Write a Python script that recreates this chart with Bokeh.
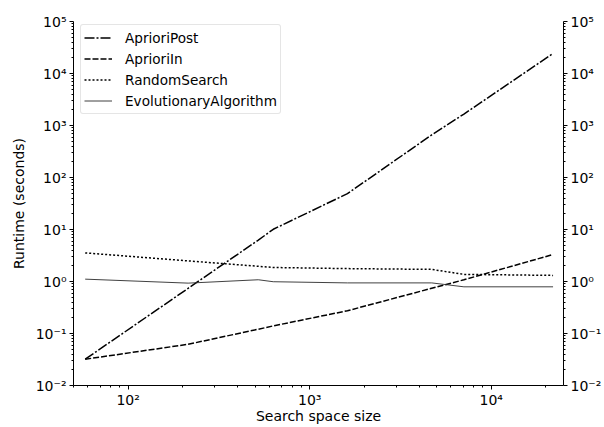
from bokeh.plotting import figure
from bokeh.models import Range1d, LogAxis, FixedTicker, CustomJSTickFormatter
from bokeh.embed import file_html
from bokeh.resources import INLINE

# ---- data ----
sizes = [58, 214, 521, 630, 1614, 4700, 7070, 21900]
apriori_post = [0.032, 0.74, 6.25, 10.1, 49, 660, 1660, 24300]
apriori_in = [0.032, 0.062, 0.121, 0.14, 0.274, 0.74, 1.08, 3.3]
random_search = [3.55, 2.49, 1.96, 1.86, 1.77, 1.71, 1.37, 1.31]
evolutionary = [1.11, 0.93, 1.08, 0.99, 0.94, 0.94, 0.79, 0.79]

x_major = [100, 1000, 10000]
x_minor = [m * 10 ** k for k in range(1, 5) for m in range(2, 10)]
y_major = [10.0 ** k for k in range(-2, 6)]
y_minor = [m * 10.0 ** k for k in range(-2, 5) for m in range(2, 10)]

FONT = "DejaVu Sans"

p = figure(width=604, height=427, x_axis_type="log", y_axis_type="log",
           x_range=Range1d(50, 25000), y_range=Range1d(0.01, 1e5),
           output_backend="svg", toolbar_location=None,
           min_border_left=73, min_border_right=41, min_border_top=21,
           min_border_bottom=42)
p.outline_line_color = None
p.xgrid.visible = False
p.ygrid.visible = False
p.background_fill_color = "white"
p.border_fill_color = "white"

fmt_code = """
const e = Math.round(Math.log10(tick));
const sup = {'-':'\u207b','0':'\u2070','1':'\u00b9','2':'\u00b2','3':'\u00b3','4':'\u2074','5':'\u2075','6':'\u2076','7':'\u2077','8':'\u2078','9':'\u2079'};
return '10' + String(e).split('').map(c => sup[c]).join('');
"""

p.line(sizes, apriori_post, color="black", line_width=1.5, line_dash="10 2 2 2",
       legend_label="AprioriPost")
p.line(sizes, apriori_in, color="black", line_width=1.5, line_dash="6 2",
       legend_label="AprioriIn")
p.line(sizes, random_search, color="black", line_width=1.5, line_dash="2 2",
       legend_label="RandomSearch")
p.line(sizes, evolutionary, color="#2b2b2b", line_width=0.9,
       legend_label="EvolutionaryAlgorithm")

right = LogAxis()
p.add_layout(right, "right")

def style_axis(ax, major, minor):
    ax.ticker = FixedTicker(ticks=major, minor_ticks=minor)
    ax.formatter = CustomJSTickFormatter(code=fmt_code)
    ax.major_tick_out = 4
    ax.major_tick_in = 0
    ax.minor_tick_out = 2
    ax.minor_tick_in = 0
    ax.major_label_standoff = 3
    ax.major_label_text_font = FONT
    ax.major_label_text_font_size = "14px"
    ax.major_label_text_color = "black"
    ax.axis_line_color = "black"
    ax.major_tick_line_color = "black"
    ax.minor_tick_line_color = "black"
    ax.axis_label_text_font = FONT
    ax.axis_label_text_font_size = "14px"
    ax.axis_label_text_font_style = "normal"
    ax.axis_label_text_color = "black"

style_axis(p.xaxis[0], x_major, x_minor)
style_axis(p.yaxis[0], y_major, y_minor)
style_axis(right, y_major, y_minor)

p.xaxis[0].axis_label = "Search space size"
p.xaxis[0].axis_label_standoff = -3
p.xaxis[0].major_label_standoff = 2
p.yaxis[0].axis_label = "Runtime (seconds)"
p.yaxis[0].axis_label_standoff = 6

lg = p.legend[0]
lg.location = (7, 271)
lg.margin = 0
lg.padding = 3
lg.spacing = 2
lg.glyph_width = 28
lg.glyph_height = 19
lg.label_height = 19
lg.label_standoff = 13
lg.label_text_font = FONT
lg.label_text_font_size = "13.6px"
lg.label_text_color = "black"
lg.border_line_color = "#cccccc"
lg.border_line_width = 1
lg.background_fill_alpha = 0.8
if "border_radius" in lg.properties():
    lg.border_radius = 3

open("out.html", "w").write(file_html(p, INLINE))
